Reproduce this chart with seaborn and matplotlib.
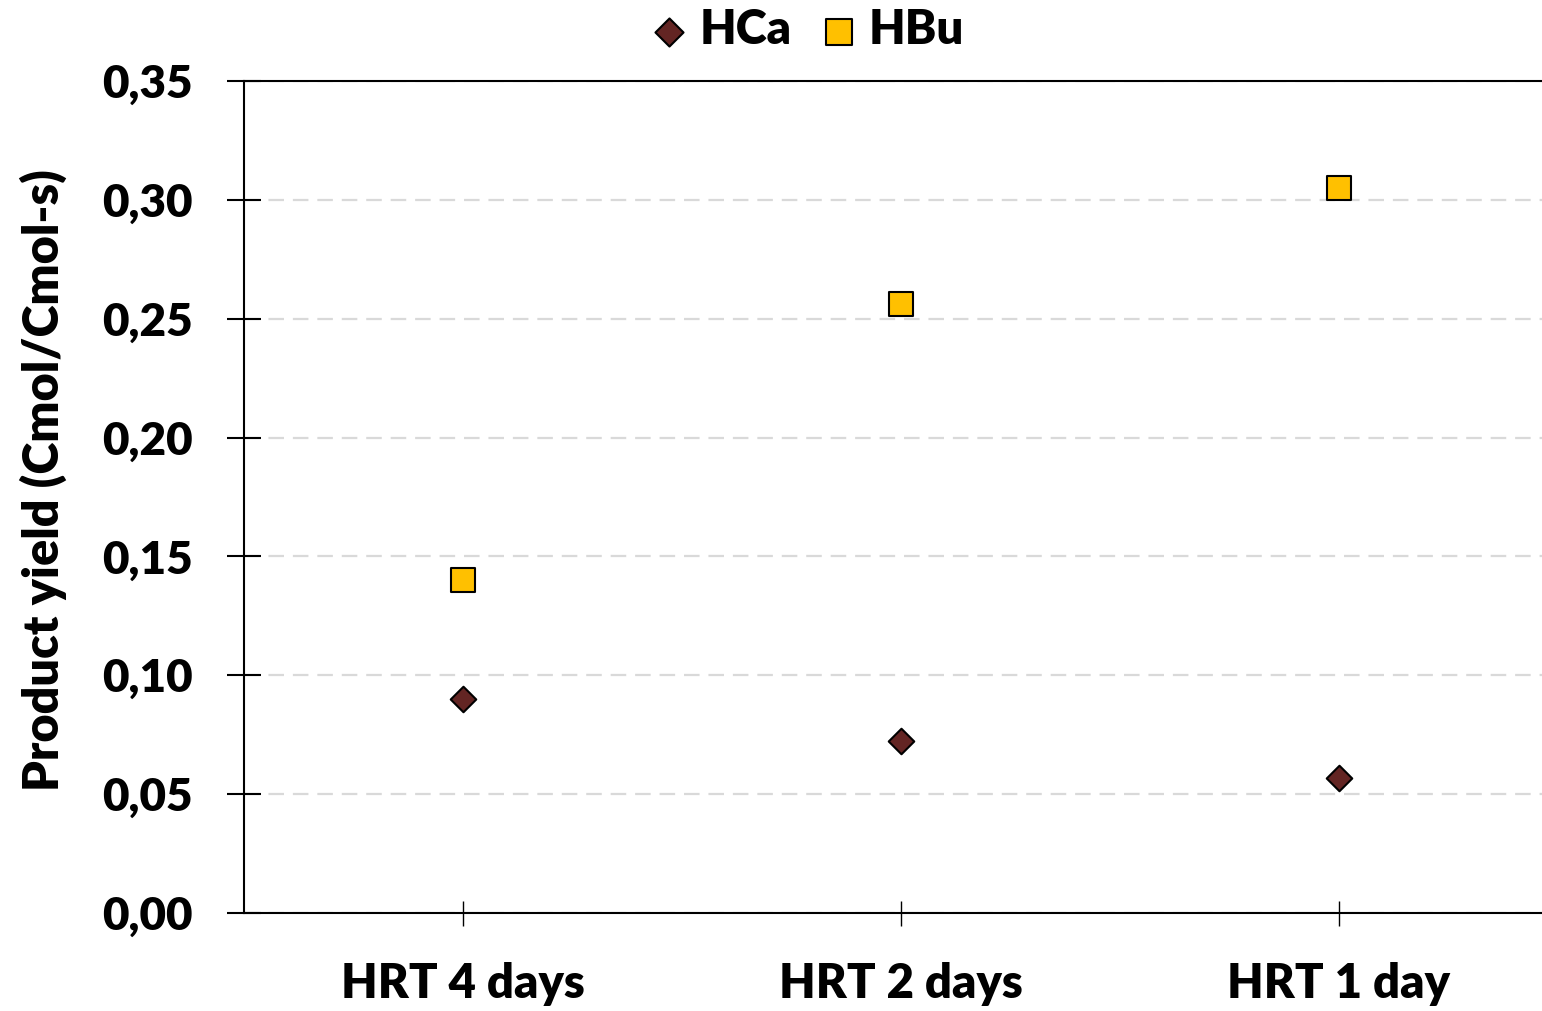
import pandas as pd
import matplotlib.pyplot as plt
import seaborn as sns

# Data
conditions = ["HRT 4 days", "HRT 2 days", "HRT 1 day"]
hca = [0.090, 0.0725, 0.057]
hbu = [0.140, 0.256, 0.305]
yticks = [0.00, 0.05, 0.10, 0.15, 0.20, 0.25, 0.30, 0.35]

df = pd.DataFrame({
    "cond": conditions * 2,
    "x": list(range(len(conditions))) * 2,
    "yield": hca + hbu,
    "product": ["HCa"] * len(hca) + ["HBu"] * len(hbu),
})

sns.set_theme(style="white")
plt.rcParams["font.family"] = ["Lato", "DejaVu Sans"]
plt.rcParams["font.weight"] = "heavy"
plt.rcParams["text.color"] = "black"
W = "heavy"

fig = plt.figure(figsize=(15.42, 10.11), dpi=100)
ax = fig.add_axes([244 / 1542, 1 - 913 / 1011, 1 - 244 / 1542, (913 - 81) / 1011])

ax.yaxis.grid(True, color="#d9d9d9", linestyle=(0, (7, 4)), linewidth=1.6)
ax.set_axisbelow(True)

sns.scatterplot(data=df[df["product"] == "HCa"], x="x", y="yield", ax=ax,
                marker="D", s=13 ** 2, color="#632523", edgecolor="black",
                linewidth=1.5, label="HCa", zorder=3)
sns.scatterplot(data=df[df["product"] == "HBu"], x="x", y="yield", ax=ax,
                marker="s", s=17 ** 2, color="#ffc000", edgecolor="black",
                linewidth=1.5, label="HBu", zorder=3)

ax.set_xlim(-0.5, 2.464)
ax.set_ylim(0, 0.35)
ax.set_xticks(range(len(conditions)))
ax.set_xticklabels(conditions)
ax.set_yticks(yticks)
ax.set_yticklabels([f"{v:.2f}".replace(".", ",") for v in yticks])

for lab in ax.get_xticklabels():
    lab.set_fontweight(W)
    lab.set_fontsize(34)
    lab.set_color("black")
for lab in ax.get_yticklabels():
    lab.set_fontweight(W)
    lab.set_fontsize(33)
    lab.set_color("black")

# Excel-style ticks crossing the axis line
ax.tick_params(axis="y", left=True, direction="inout", length=24.5, width=1.5,
               color="black", pad=24.5)
ax.tick_params(axis="x", bottom=True, direction="inout", length=18, width=1.0,
               color="black", pad=26)

ax.set_xlabel("")
ax.set_ylabel("Product yield (Cmol/Cmol-s)", fontsize=35, fontweight=W,
              color="black")
ax.yaxis.set_label_coords(-0.136, 0.52)

for side in ["left", "top", "bottom"]:
    ax.spines[side].set_visible(True)
    ax.spines[side].set_color("black")
    ax.spines[side].set_linewidth(1.5)
ax.spines["right"].set_visible(False)

leg = ax.legend(loc="lower center", bbox_to_anchor=(0.432, 1.012), ncol=2,
                frameon=False, fontsize=34, handlelength=1.0, handletextpad=0.14,
                columnspacing=0.5, borderaxespad=0.0, markerscale=1.1)
for t in leg.get_texts():
    t.set_fontweight(W)
    t.set_color("black")

fig.savefig("out.png", dpi=100)
